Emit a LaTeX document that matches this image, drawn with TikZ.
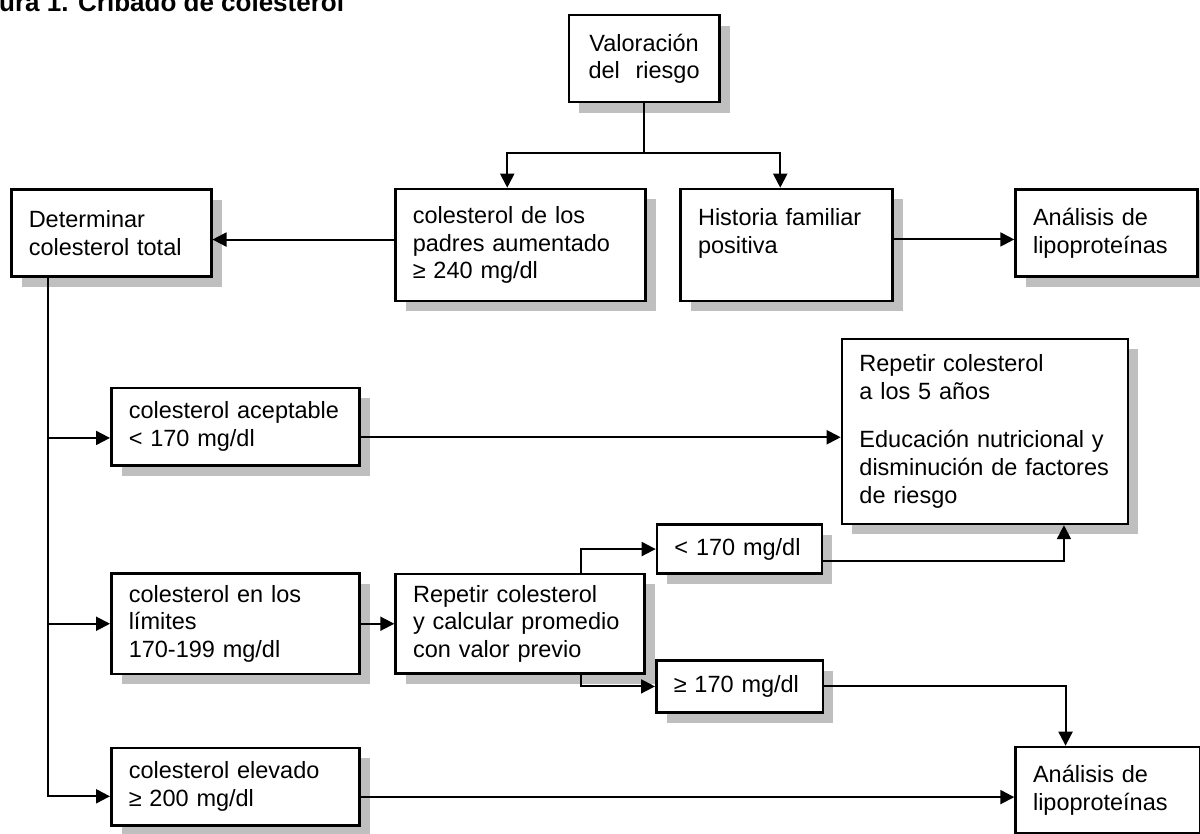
\documentclass[tikz,border=0pt]{standalone}
\usepackage{fontspec}
\setmainfont{Liberation Sans}
\usetikzlibrary{arrows.meta, positioning, shadows}

\begin{document}
\begin{tikzpicture}[x=1pt, y=-1pt, font=\fontsize{23.5}{27.8}\selectfont]
  % Define styles
  \tikzstyle{box} = [rectangle, draw=black, line width=2.5pt, fill=white, anchor=north west, inner xsep=17.5pt, inner ysep=0pt, align=left, general shadow={fill=gray!50, shadow xshift=10.5pt, shadow yshift=-10.5pt}]
  \tikzstyle{arrow} = [line width=2pt, -{Triangle[length=14pt, width=14pt]}]
  \tikzstyle{line} = [line width=2pt]

  \useasboundingbox (0,0) rectangle (1200,834);
  \clip (0,0) rectangle (1200,834);

  % Place nodes
  \node [font=\fontsize{26}{30}\selectfont\bfseries, anchor=base west, inner sep=0pt] (title) at (-1,11.5) {ura 1. Cribado de colesterol};
  \node [box, align=center, minimum width=150.3pt, minimum height=87pt, text width=115pt] (valor) at (567.7,14) {Valoración\\del~~riesgo};
  \node [box, minimum width=200pt, minimum height=87pt, text width=165pt] (determ) at (10,188.3) {Determinar\\colesterol total};
  \node [box, minimum width=250pt, minimum height=112pt, text width=215pt] (padres) at (394,187.7) {colesterol de los\\padres aumentado\\≥ 240 mg/dl};
  \node [box, minimum width=212pt, minimum height=112pt, text width=177pt] (hist) at (679.3,187.7) {Historia familiar\\positiva\\\mbox{}};
  \node [box, minimum width=182pt, minimum height=87pt, text width=147pt] (anal1) at (1014.3,188.3) {Análisis de\\lipoproteínas};
  \node [box, minimum width=248.3pt, minimum height=77.6pt, text width=213.3pt] (acept) at (110,386.7) {colesterol aceptable\\< 170 mg/dl};
  \node [box, minimum width=248.3pt, minimum height=100.4pt, text width=213.3pt] (lim) at (110,572.3) {colesterol en los\\límites\\170-199 mg/dl};
  \node [box, minimum width=248.3pt, minimum height=77.3pt, text width=213.3pt] (elev) at (110,746.7) {colesterol elevado\\≥ 200 mg/dl};
  \node [box, minimum width=249pt, minimum height=99.6pt, text width=214pt] (repc) at (394.3,572.7) {Repetir colesterol\\y calcular promedio\\con valor previo};
  \node [box, minimum width=165pt, minimum height=49pt, text width=130pt] (low) at (655.7,523.3) {< 170 mg/dl};
  \node [box, minimum width=166.7pt, minimum height=51.7pt, text width=131.7pt] (high) at (655,659.3) {≥ 170 mg/dl};
  \node [box, minimum width=286pt, minimum height=185pt, text width=251pt] (rep5) at (840.7,337.7) {Repetir colesterol\\a los 5 años\\[20pt]Educación nutricional y\\disminución de factores\\de riesgo};
  \node [box, minimum width=185pt, minimum height=86pt, text width=150pt] (anal2) at (1014.3,745.7) {Análisis de\\lipoproteínas};

  % Draw edges
  \coordinate [yshift=-49.7pt] (split) at (valor.south);
  \draw [line] (valor) -- (split);
  \draw [arrow] (split) -| ([xshift=-13pt]padres.north);
  \draw [arrow] (split) -| ([xshift=-6.3pt]hist.north);
  \draw [arrow] ([yshift=5.4pt]padres.west) coordinate (pw) -- (pw -| determ.east);
  \draw [arrow] ([yshift=5.5pt]hist.east) coordinate (he) -- (he -| anal1.west);

  \coordinate [xshift=38.3pt] (trunk) at (determ.south west);
  \coordinate [yshift=-11.2pt] (ac) at (acept.west);
  \draw [arrow] (trunk) |- ([yshift=-9.7pt]elev.west);
  \draw [arrow] (trunk |- lim.west) -- (lim.west);
  \draw [arrow] (trunk |- ac) -- (ac);

  \draw [arrow] ([yshift=-10.5pt]acept.east) coordinate (ae) -- (ae -| rep5.west);
  \draw [arrow] (lim.east) -- (repc.west);
  \draw [arrow] ([xshift=186.4pt]repc.north west) |- (low.west);
  \draw [arrow] ([xshift=186.7pt]repc.south west) |- (high.west);
  \draw [arrow] ([yshift=-12pt]low.east) -| ([xshift=79pt]rep5.south);
  \draw [arrow] (high.east) -| ([xshift=-42.5pt]anal2.north);
  \draw [arrow] ([yshift=-10.5pt]elev.east) coordinate (ee) -- (ee -| anal2.west);
\end{tikzpicture}
\end{document}
